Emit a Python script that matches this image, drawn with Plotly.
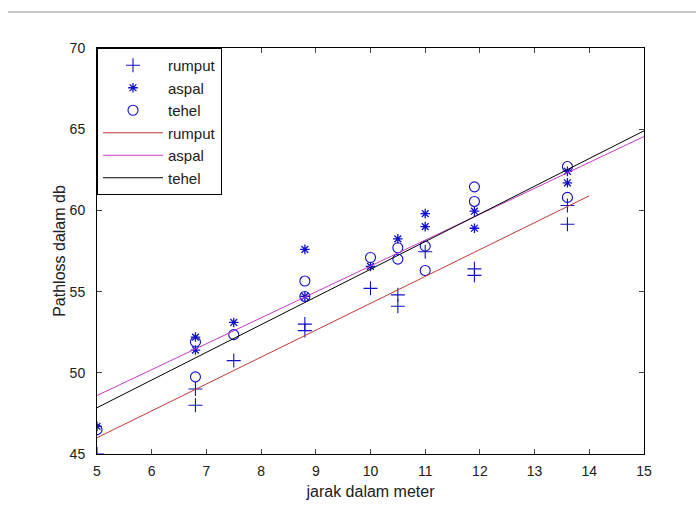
import plotly.graph_objects as go

# Measured data
rumput_x = [5, 6.8, 6.8, 7.5, 8.8, 8.8, 10, 10.5, 10.5, 11, 11.9, 11.9, 13.6, 13.6]
rumput_y = [45.0, 49.0, 48.0, 50.75, 53.0, 52.6, 55.2, 54.8, 54.1, 57.45, 56.4, 56.0, 60.3, 59.15]

aspal_x = [5, 6.8, 6.8, 7.5, 8.8, 8.8, 10, 10.5, 11, 11, 11.9, 11.9, 13.6, 13.6]
aspal_y = [46.7, 52.2, 51.4, 53.1, 57.6, 54.7, 56.55, 58.25, 59.8, 59.0, 59.95, 58.9, 62.4, 61.7]

tehel_x = [5, 6.8, 6.8, 7.5, 8.8, 8.8, 10, 10.5, 10.5, 11, 11, 11.9, 11.9, 13.6, 13.6]
tehel_y = [46.5, 51.9, 49.75, 52.35, 55.65, 54.7, 57.1, 57.7, 57.0, 57.8, 56.3, 61.45, 60.55, 62.7, 60.8]

# Fitted lines (end points)
fit_rumput_x = [5, 14]
fit_rumput_y = [46.0, 60.9]
fit_aspal_x = [5, 15]
fit_aspal_y = [48.6, 64.55]
fit_tehel_x = [5, 15]
fit_tehel_y = [47.85, 64.9]

x_ticks = list(range(5, 16))
y_ticks = [45, 50, 55, 60, 65, 70]

blue = "#1010c8"
fig = go.Figure()
fig.add_trace(go.Scatter(x=rumput_x, y=rumput_y, mode="markers", name="rumput",
                         marker=dict(symbol="cross-thin-open", size=10, color=blue,
                                     line=dict(color=blue, width=1.1))))
fig.add_trace(go.Scatter(x=aspal_x, y=aspal_y, mode="markers", name="aspal",
                         marker=dict(symbol="asterisk-open", size=8, color=blue,
                                     line=dict(color=blue, width=1.3))))
fig.add_trace(go.Scatter(x=tehel_x, y=tehel_y, mode="markers", name="tehel",
                         marker=dict(symbol="circle-open", size=10, color=blue,
                                     line=dict(color=blue, width=1.1))))
fig.add_trace(go.Scatter(x=fit_rumput_x, y=fit_rumput_y, mode="lines", name="rumput",
                         line=dict(color="#c03838", width=1)))
fig.add_trace(go.Scatter(x=fit_aspal_x, y=fit_aspal_y, mode="lines", name="aspal",
                         line=dict(color="#c838c8", width=1)))
fig.add_trace(go.Scatter(x=fit_tehel_x, y=fit_tehel_y, mode="lines", name="tehel",
                         line=dict(color="#000000", width=1)))

font = "Liberation Sans, Arial, sans-serif"
fig.update_layout(
    width=696, height=505,
    margin=dict(l=97, r=52, t=48, b=51),
    paper_bgcolor="white", plot_bgcolor="white",
    font=dict(family=font, size=14, color="#202020"),
    showlegend=True,
    legend=dict(x=0, y=1, xanchor="left", yanchor="top",
                bordercolor="black", borderwidth=1, bgcolor="white",
                font=dict(size=15), tracegroupgap=0, itemwidth=60),
    xaxis=dict(range=[5, 15], tickvals=x_ticks, ticks="inside", ticklen=5,
               showline=True, linecolor="black", linewidth=1, mirror="ticks",
               showgrid=False, zeroline=False, tickfont=dict(size=14),
               ticklabelstandoff=4, automargin=False,
               title=dict(text="jarak dalam meter", standoff=8, font=dict(size=16))),
    yaxis=dict(range=[45, 70], tickvals=y_ticks, ticks="inside", ticklen=5,
               showline=True, linecolor="black", linewidth=1, mirror="ticks",
               showgrid=False, zeroline=False, tickfont=dict(size=14),
               ticklabelstandoff=8, automargin=False,
               title=dict(text="Pathloss dalam db", standoff=0, font=dict(size=16))),
    shapes=[dict(type="line", xref="paper", yref="paper",
                 x0=-0.163, x1=1.1, y0=1.0887, y1=1.0887,
                 line=dict(color="#909090", width=1))],
)

fig.write_html("out.html")
